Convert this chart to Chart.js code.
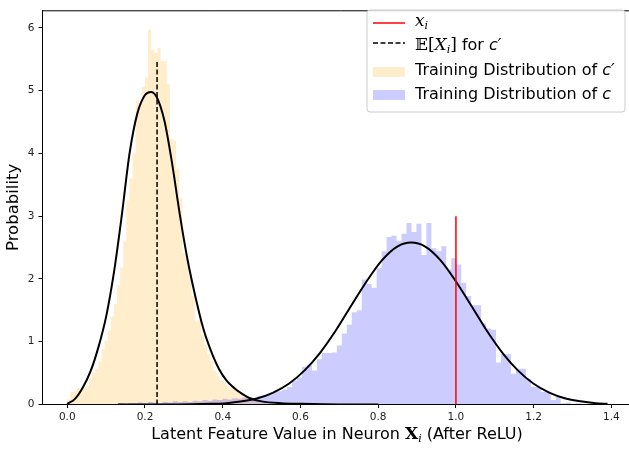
<!DOCTYPE html>
<html>
<head>
<meta charset="utf-8">
<script src="https://cdn.jsdelivr.net/npm/chart.js@4.4.1/dist/chart.umd.min.js"></script>
<style>
  html, body { margin: 0; padding: 0; background: #fff; overflow: hidden; }
  #wrap { width: 640px; height: 451px; }
</style>
</head>
<body>
<div id="wrap"><canvas id="chart" width="640" height="451"></canvas></div>
<script>
// histogram of c' (orange), bins
const orangeStart = 0.0;
const orangeBinWidth = 0.008;
const orangeValues = [
  0.08, 0.20, 0.22, 0.26, 0.25, 0.26, 0.30, 0.41, 0.51, 0.56,
  0.69, 0.88, 1.02, 1.18, 1.40, 1.60, 1.90, 2.18, 2.60, 3.25,
  3.60, 4.00, 4.85, 4.80, 5.06, 5.21, 5.97, 5.65, 5.60, 5.68,
  5.47, 5.47, 5.10, 4.23, 4.20, 3.76, 3.29, 2.41, 2.31, 2.05,
  1.73, 1.32, 1.35, 1.11, 0.95, 0.80, 0.69, 0.54, 0.45, 0.38,
  0.36, 0.30, 0.26, 0.26, 0.22, 0.18, 0.15, 0.14, 0.10, 0.08,
  0.07, 0.06, 0.05, 0.04, 0.03, 0.04, 0.02, 0.03, 0.02, 0.02,
  0.01, 0.02, 0.01, 0.01, 0.02, 0.01, 0.00, 0.01, 0.01, 0.00,
  0.01, 0.00, 0.01, 0.00, 0.00, 0.01, 0.00, 0.00, 0.01, 0.00,
  0.00, 0.01, 0.00, 0.00, 0.00, 0.01, 0.00, 0.00, 0.00, 0.01
];

// histogram of c (blue)
const blueStart = 0.1304;
const blueBinWidth = 0.0128;
const blueValues = [
  0.02, 0.00, 0.02, 0.02, 0.03, 0.02, 0.04, 0.03, 0.02, 0.04,
  0.03, 0.05, 0.04, 0.05, 0.04, 0.06, 0.05, 0.07, 0.06, 0.08,
  0.07, 0.09, 0.08, 0.10, 0.09, 0.11, 0.12, 0.10, 0.14, 0.15,
  0.16, 0.20, 0.21, 0.24, 0.28, 0.38, 0.43, 0.60, 0.62, 0.54,
  0.72, 0.82, 0.82, 0.83, 0.94, 1.13, 1.27, 1.47, 1.50, 1.99,
  1.92, 1.86, 2.17, 2.44, 2.67, 2.69, 2.61, 2.72, 2.89, 2.75,
  2.88, 2.38, 2.89, 2.49, 2.44, 2.52, 2.15, 2.33, 2.23, 1.94,
  1.73, 1.58, 1.58, 1.29, 1.21, 1.19, 0.67, 0.80, 0.80, 0.49,
  0.57, 0.57, 0.41, 0.28, 0.28, 0.20, 0.20, 0.07, 0.12, 0.02,
  0.03, 0.01, 0.02, 0.01, 0.00, 0.01, 0.00, 0.01
];

// fitted density curves (black)
const orangeCurveX = [0, 0.02, 0.04, 0.06, 0.08, 0.10, 0.12, 0.14, 0.16, 0.18, 0.20, 0.215,
  0.23, 0.25, 0.27, 0.29, 0.31, 0.33, 0.35, 0.37, 0.39, 0.41, 0.43, 0.45, 0.47, 0.50,
  0.55, 0.60, 0.70, 0.80];
const orangeCurveY = [0.01, 0.09, 0.27, 0.53, 0.91, 1.40, 2.10, 3.00, 3.99, 4.63, 4.93, 4.98,
  4.90, 4.52, 3.83, 3.01, 2.29, 1.71, 1.21, 0.85, 0.57, 0.38, 0.26, 0.17, 0.10, 0.05,
  0.02, 0.01, 0.00, 0.00];
const blueCurveX = [0.13, 0.21, 0.29, 0.37, 0.41, 0.45, 0.49, 0.53, 0.57, 0.61, 0.65, 0.69,
  0.73, 0.77, 0.81, 0.85, 0.885, 0.92, 0.96, 1.00, 1.04, 1.08, 1.12, 1.16, 1.20, 1.24,
  1.28, 1.32, 1.36, 1.39];
const blueCurveY = [0.00, 0.00, 0.00, 0.01, 0.02, 0.05, 0.10, 0.19, 0.33, 0.54, 0.82, 1.17,
  1.57, 1.96, 2.30, 2.52, 2.58, 2.52, 2.30, 1.96, 1.57, 1.17, 0.82, 0.54, 0.33, 0.19,
  0.10, 0.05, 0.02, 0.01];

// vertical markers
const meanX = 0.231, meanTop = 5.47;   // E[X_i] for c'
const xiX = 1.0, xiTop = 3.0;          // x_i

const xTicks = [0.0, 0.2, 0.4, 0.6, 0.8, 1.0, 1.2, 1.4];
const yTicks = [0, 1, 2, 3, 4, 5, 6];

const orangeFill = 'rgba(255, 165, 0, 0.2)';
const blueFill = 'rgba(0, 0, 255, 0.2)';

// turn bins into points for a stepped, filled line
function binsToSteps(start, width, values) {
  const pts = values.map((v, i) => ({ x: start + i * width, y: v }));
  pts.push({ x: start + values.length * width, y: 0 });
  return pts;
}

function zip(xs, ys) {
  return xs.map((x, i) => ({ x: x, y: ys[i] }));
}

// draw text pieces with different fonts one after another
function drawRuns(ctx, x, y, runs, center) {
  let total = 0;
  runs.forEach(r => { ctx.font = r.font; total += ctx.measureText(r.text).width; });
  let cx = center ? x - total / 2 : x;
  runs.forEach(r => {
    ctx.font = r.font;
    ctx.fillText(r.text, cx, y + (r.dy || 0));
    cx += ctx.measureText(r.text).width;
  });
}

const SANS = "'DejaVu Sans'";
const SERIF = "'DejaVu Serif', 'DejaVu Sans'";

const textPlugin = {
  id: 'textPlugin',
  afterDraw(chart) {
    const ctx = chart.ctx;
    const area = chart.chartArea;
    ctx.save();

    // top spine
    ctx.beginPath();
    ctx.moveTo(area.left, area.top + 0.5);
    ctx.lineTo(area.right, area.top + 0.5);
    ctx.strokeStyle = '#000';
    ctx.lineWidth = 1;
    ctx.stroke();

    ctx.fillStyle = '#000';
    ctx.textBaseline = 'alphabetic';
    ctx.textAlign = 'left';

    // x axis title
    drawRuns(ctx, 337, 439, [
      { text: 'Latent Feature Value in Neuron ', font: '16px ' + SANS },
      { text: 'X', font: 'bold 17px ' + SERIF },
      { text: 'i', font: 'italic 11px ' + SERIF, dy: 3 },
      { text: ' (After ReLU)', font: '16px ' + SANS }
    ], true);

    // legend frame
    const lx = 367, ly = 10, lw = 258, lh = 102, r = 3;
    ctx.beginPath();
    ctx.moveTo(lx + r, ly);
    ctx.arcTo(lx + lw, ly, lx + lw, ly + lh, r);
    ctx.arcTo(lx + lw, ly + lh, lx, ly + lh, r);
    ctx.arcTo(lx, ly + lh, lx, ly, r);
    ctx.arcTo(lx, ly, lx + lw, ly, r);
    ctx.closePath();
    ctx.fillStyle = 'rgba(255,255,255,0.8)';
    ctx.fill();
    ctx.strokeStyle = 'rgba(204,204,204,1)';
    ctx.lineWidth = 1;
    ctx.stroke();

    const hx0 = 373, hx1 = 405, tx = 415;
    // row 1: x_i
    ctx.beginPath();
    ctx.moveTo(hx0, 23); ctx.lineTo(hx1, 23);
    ctx.strokeStyle = 'red'; ctx.lineWidth = 1.5; ctx.stroke();
    ctx.fillStyle = '#000';
    drawRuns(ctx, tx, 26, [
      { text: 'x', font: 'italic 17px ' + SERIF },
      { text: 'i', font: 'italic 11px ' + SERIF, dy: 3 }
    ]);
    // row 2: E[X_i] for c'
    ctx.beginPath();
    ctx.setLineDash([5, 2.5]);
    ctx.moveTo(hx0, 43); ctx.lineTo(hx1, 43);
    ctx.strokeStyle = '#000'; ctx.lineWidth = 1.5; ctx.stroke();
    ctx.setLineDash([]);
    drawRuns(ctx, tx, 50, [
      { text: '\u{1D53C}[', font: '17px ' + SERIF },
      { text: 'X', font: 'italic 17px ' + SERIF },
      { text: 'i', font: 'italic 11px ' + SERIF, dy: 3 },
      { text: ']', font: '17px ' + SERIF },
      { text: ' for ', font: '16px ' + SANS },
      { text: 'c\u2032', font: 'oblique 16px ' + SANS }
    ]);
    // row 3, 4: patches
    ctx.fillStyle = orangeFill;
    ctx.fillRect(hx0, 67, hx1 - hx0, 10);
    ctx.fillStyle = blueFill;
    ctx.fillRect(hx0, 90, hx1 - hx0, 10);
    ctx.fillStyle = '#000';
    drawRuns(ctx, tx, 75, [
      { text: 'Training Distribution of ', font: '16px ' + SANS },
      { text: 'c\u2032', font: 'oblique 16px ' + SANS }
    ]);
    drawRuns(ctx, tx, 99, [
      { text: 'Training Distribution of ', font: '16px ' + SANS },
      { text: 'c', font: 'oblique 16px ' + SANS }
    ]);
    ctx.restore();
  }
};

const ctx = document.getElementById('chart').getContext('2d');
new Chart(ctx, {
  type: 'line',
  data: {
    datasets: [
      {
        data: [{ x: xiX, y: 0 }, { x: xiX, y: xiTop }],
        borderColor: 'red', borderWidth: 1.5, pointRadius: 0
      },
      {
        data: [{ x: meanX, y: 0 }, { x: meanX, y: meanTop }],
        borderColor: '#000', borderWidth: 1.5, borderDash: [5, 2.5], pointRadius: 0
      },
      {
        data: zip(orangeCurveX, orangeCurveY),
        borderColor: '#000', borderWidth: 2, pointRadius: 0,
        cubicInterpolationMode: 'monotone'
      },
      {
        data: zip(blueCurveX, blueCurveY),
        borderColor: '#000', borderWidth: 2, pointRadius: 0,
        cubicInterpolationMode: 'monotone'
      },
      {
        data: binsToSteps(blueStart, blueBinWidth, blueValues),
        stepped: true, fill: 'origin', backgroundColor: blueFill,
        borderColor: 'rgba(0,0,0,0)', borderWidth: 0, pointRadius: 0
      },
      {
        data: binsToSteps(orangeStart, orangeBinWidth, orangeValues),
        stepped: true, fill: 'origin', backgroundColor: orangeFill,
        borderColor: 'rgba(0,0,0,0)', borderWidth: 0, pointRadius: 0
      }
    ]
  },
  options: {
    responsive: false,
    devicePixelRatio: 1,
    animation: false,
    events: [],
    layout: { padding: { left: 0, top: 2, right: 1, bottom: 0 } },
    plugins: { legend: { display: false }, tooltip: { enabled: false } },
    scales: {
      x: {
        type: 'linear',
        min: -0.065,
        max: 1.471,
        afterBuildTicks: scale => { scale.ticks = xTicks.map(v => ({ value: v })); },
        afterFit: scale => { scale.height = 46.5; },
        grid: { drawOnChartArea: false, drawTicks: true, tickLength: 3.5, color: '#000' },
        border: { display: true, color: '#000', width: 1 },
        ticks: {
          padding: 3,
          color: '#222',
          font: { family: 'DejaVu Sans', size: 10.5 },
          maxRotation: 0,
          callback: v => v.toFixed(1)
        }
      },
      y: {
        min: 0,
        max: 6.28,
        afterBuildTicks: scale => { scale.ticks = yTicks.map(v => ({ value: v })); },
        afterFit: scale => { scale.width = 42; },
        grid: { drawOnChartArea: false, drawTicks: true, tickLength: 3.5, color: '#000' },
        border: { display: true, color: '#000', width: 1 },
        ticks: {
          padding: 4,
          color: '#222',
          font: { family: 'DejaVu Sans', size: 10.5 },
          callback: v => v.toFixed(0)
        },
        title: {
          display: true,
          text: 'Probability',
          color: '#000',
          font: { family: 'DejaVu Sans', size: 16.5 },
          padding: { top: 4, bottom: 4 }
        }
      }
    }
  },
  plugins: [textPlugin]
});
</script>
</body>
</html>
